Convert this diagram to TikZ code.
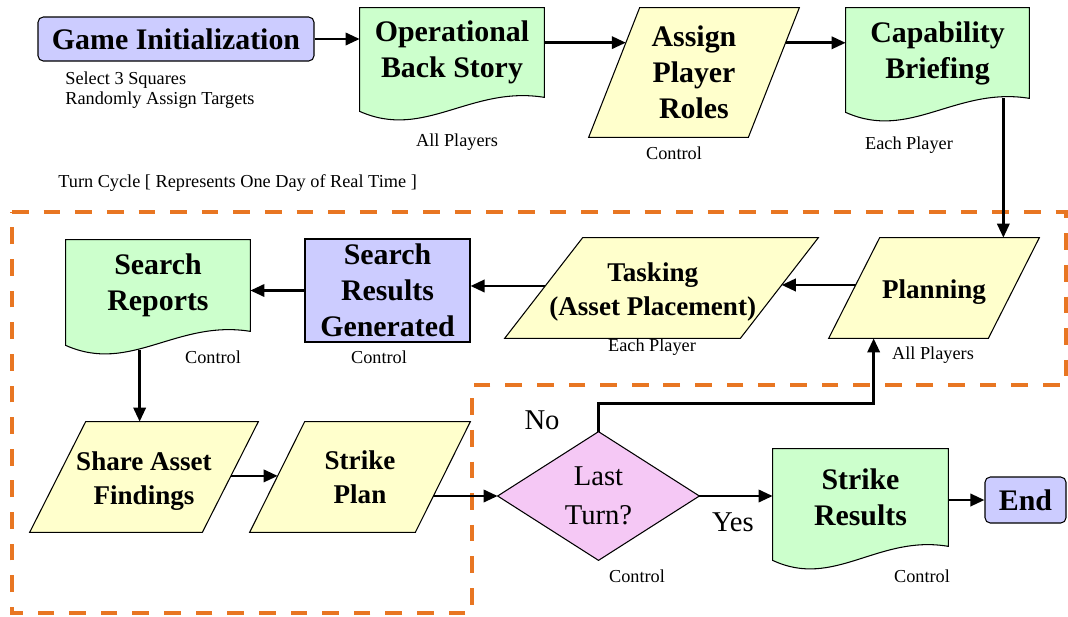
\documentclass[tikz,border=0pt]{standalone}
\usepackage{fontspec}
\setmainfont{Liberation Serif}
\usetikzlibrary{arrows.meta,calc,backgrounds}
\definecolor{lav}{RGB}{204,204,255}
\definecolor{grn}{RGB}{204,255,204}
\definecolor{yel}{RGB}{255,255,204}
\definecolor{pnk}{RGB}{245,200,245}
\definecolor{org}{RGB}{232,118,34}
\tikzset{
  bigtxt/.style={font=\fontsize{17}{20.5}\selectfont\bfseries},
  midtxt/.style={font=\fontsize{15.4}{19.5}\selectfont\bfseries},
  shp/.style={inner sep=0pt, align=center},
  sz/.style 2 args={minimum width=#1*0.02cm, minimum height=#2*0.02cm},
  smalltxt/.style={font=\fontsize{10.4}{11.5}\selectfont, inner sep=0pt},
  lbltxt/.style={font=\fontsize{16.3}{22}\selectfont, inner sep=0pt, align=center},
  outl/.style={draw=black, line width=0.6pt},
  arr/.style={line width=1.5pt, -{Triangle[length=8pt,width=7pt]}},
  turnregion/.style={draw=org, line width=2.3pt, dash pattern=on 9.5pt off 8.5pt},
}
\newcommand\drawpara[3]{%
  \coordinate (#1-tl) at ($(#1.north west)+(#2,0)$);
  \coordinate (#1-br) at ($(#1.south east)+(-#2,0)$);
  \filldraw[outl, fill=#3] (#1-tl) -- (#1.north east) -- (#1-br) -- (#1.south west) -- cycle;}
\newcommand\drawdoc[1]{%
  \filldraw[outl, fill=grn] (#1.south east) -- (#1.north east) -- (#1.north west) -- ($(#1.south west)+(0,14)$)
   .. controls ($(#1.south west)!0.35!(#1.south east)+(0,43)$) and ($(#1.south west)!0.6!(#1.south east)+(0,-12)$) .. (#1.south east) -- cycle;}
\begin{document}
\begin{tikzpicture}[x=0.02cm,y=-0.02cm]
\useasboundingbox (0,0) rectangle (1068,616);
% ---- nodes
\node[shp,bigtxt,outl,fill=lav,rounded corners=3pt,sz={276}{44}] (gi) at (176,39) {Game Initialization};
\node[smalltxt,align=left,anchor=west] (notes) at (65,90) {Select 3 Squares\\Randomly Assign Targets};
\node[shp,bigtxt,sz={184}{89}] (op) at (452,52.5) {Operational\\Back Story};
\node[smalltxt] (allp1) at (457,142) {All Players};
\node[shp,bigtxt,sz={210}{129}] (assign) at (694,72.5) {Assign\\Player\\Roles};
\node[smalltxt] (ctl1) at (674,153) {Control};
\node[shp,bigtxt,sz={183}{90}] (cap) at (937.5,53) {Capability\\Briefing};
\node[smalltxt] (each1) at (909,145) {Each Player};
\node[smalltxt,anchor=west] (turn) at (58,183) {Turn Cycle [ Represents One Day of Real Time ]};
\node[shp,midtxt,sz={210}{100}] (plan) at (934,288) {\rule{0pt}{15pt}Planning};
\node[smalltxt] (allp2) at (933,355) {All Players};
\node[shp,midtxt,sz={313}{100}] (task) at (661.5,288) {\rule{0pt}{15pt}Tasking\kern10pt\\(Asset Placement)\kern10pt};
\node[smalltxt] (each2) at (652,347) {Each Player};
\node[shp,bigtxt,outl,fill=lav,sz={165}{103}] (srg) at (387.5,290.5) {Search\\Results\\Generated};
\node[smalltxt] (ctl3) at (379,357) {Control};
\node[shp,bigtxt,sz={184}{91}] (sr) at (158,285.5) {Search\\Reports};
\node[smalltxt] (ctl2) at (213,357) {Control};
\node[shp,midtxt,sz={228}{110}] (share) at (144,477) {\rule{0pt}{15pt}Share Asset\\Findings};
\node[shp,midtxt,sz={220}{110}] (sp) at (360,477) {Strike\\Plan};
\node[shp,lbltxt,sz={201}{128}] (lt) at (598.5,496) {Last\\Turn?};
\node[lbltxt] (no) at (542,420) {No};
\node[lbltxt] (yes) at (733,522) {Yes};
\node[smalltxt] (ctl4) at (637,576) {Control};
\node[shp,bigtxt,sz={175}{97}] (res) at (860.5,497.5) {Strike\\Results};
\node[smalltxt] (ctl5) at (922,576) {Control};
\node[shp,bigtxt,outl,fill=lav,rounded corners=3pt,sz={81}{46}] (end) at (1025.5,500) {End};
% ---- shapes behind
\begin{scope}[on background layer]
\fill[white] (0,0) rectangle (1068,616);
\draw[turnregion] (12,212) -- (1066,212) -- (1066,385) -- (472,385) -- (472,613) -- (12,613) -- cycle;
\drawdoc{op}
\drawdoc{cap}
\drawdoc{sr}
\drawdoc{res}
\drawpara{assign}{51}{yel}
\drawpara{plan}{51}{yel}
\drawpara{task}{78}{yel}
\drawpara{share}{56}{yel}
\drawpara{sp}{55}{yel}
\filldraw[outl,fill=pnk] (lt.north) -- (lt.east) -- (lt.south) -- (lt.west) -- cycle;
\end{scope}
% ---- connectors
\draw[arr] (gi.east) -- (gi.east -| op.west);
\path ($(op.north east)+(0,35)$) coordinate (a1) ($(assign-tl)!0.271!(assign.south west)$) coordinate (a2);
\draw[arr] (a1) -- (a1 -| a2);
\path ($(assign.north east)!0.271!(assign-br)$) coordinate (b1);
\draw[arr] (b1) -- (b1 -| cap.west);
\path ($(cap.south east)+(-26,0)$) coordinate (c1);
\draw[arr] (c1) -- (c1 |- plan.north);
\draw[arr] ($(plan-tl)!0.47!(plan.south west)$) -- ($(task.north east)!0.47!(task-br)$);
\path ($(task-tl)!0.48!(task.south west)$) coordinate (f1);
\draw[arr] (f1) -- (f1 -| srg.east);
\draw[arr] (srg.west) -- (srg.west -| sr.east);
\path ($(sr.south west)+(74,19)$) coordinate (h1);
\draw[arr] (h1) -- (h1 |- share.north);
\draw[arr] ($(share.north east)!0.49!(share-br)$) -- ($(sp-tl)!0.49!(sp.south west)$);
\path ($(sp.north east)!0.673!(sp-br)$) coordinate (j1);
\draw[arr] (j1 |- lt.west) -- (lt.west);
\draw[arr] (lt.east) -- (lt.east -| res.west);
\draw[arr] (end.west -| res.east) -- (end.west);
\draw[arr] (lt.north) |- ($(plan.south west)+(45,65)$) -- ($(plan.south west)+(45,0)$);
\end{tikzpicture}
\end{document}
